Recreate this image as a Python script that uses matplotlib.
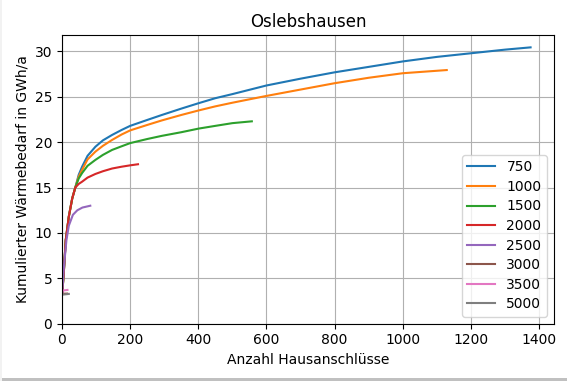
import matplotlib
matplotlib.use("Agg")
import matplotlib.pyplot as plt
from matplotlib.patches import Rectangle

labels = ["750", "1000", "1500", "2000", "2500", "3000", "3500", "5000"]

x_750 = [1, 5, 11, 20, 30, 39, 49, 59, 75, 98, 120, 147, 175, 200, 250, 293, 350, 401, 450, 500, 600, 700, 800, 900, 1000, 1100, 1200, 1300, 1375]
y_750 = [3.5, 5.5, 9.2, 11.8, 13.8, 15.0, 16.4, 17.3, 18.5, 19.5, 20.2, 20.8, 21.35, 21.8, 22.45, 23.0, 23.7, 24.3, 24.85, 25.3, 26.25, 27.0, 27.7, 28.3, 28.9, 29.4, 29.8, 30.2, 30.45]

x_1000 = [1, 5, 11, 20, 30, 39, 49, 59, 75, 98, 120, 147, 175, 200, 250, 293, 350, 401, 450, 500, 600, 700, 800, 900, 1000, 1129]
y_1000 = [3.5, 5.5, 9.2, 11.8, 13.8, 15.0, 16.2, 16.95, 18.1, 18.96, 19.6, 20.25, 20.85, 21.3, 21.9, 22.4, 23.0, 23.5, 23.95, 24.35, 25.1, 25.8, 26.5, 27.1, 27.6, 27.95]

x_1500 = [1, 5, 11, 20, 30, 39, 49, 59, 75, 98, 120, 147, 175, 200, 250, 293, 350, 401, 450, 500, 557]
y_1500 = [3.5, 5.5, 9.2, 11.8, 13.8, 15.0, 16.0, 16.6, 17.4, 18.05, 18.6, 19.15, 19.55, 19.9, 20.35, 20.7, 21.1, 21.5, 21.8, 22.1, 22.3]

x_2000 = [1, 5, 11, 20, 30, 39, 49, 59, 75, 98, 120, 147, 175, 200, 223]
y_2000 = [3.5, 5.5, 9.2, 11.8, 13.8, 15.0, 15.4, 15.65, 16.1, 16.5, 16.8, 17.1, 17.3, 17.45, 17.57]

x_2500 = [1, 5, 13, 20, 32, 45, 60, 83]
y_2500 = [3.5, 6.0, 9.2, 10.8, 12.0, 12.5, 12.8, 13.0]

x_3000 = [1, 3, 15]
y_3000 = [3.25, 3.3, 3.32]

x_3500 = [1, 2, 16]
y_3500 = [3.4, 3.65, 3.72]

x_5000 = [1, 20]
y_5000 = [3.2, 3.28]

series = [(x_750, y_750), (x_1000, y_1000), (x_1500, y_1500), (x_2000, y_2000),
          (x_2500, y_2500), (x_3000, y_3000), (x_3500, y_3500), (x_5000, y_5000)]

fig = plt.figure(figsize=(5.67, 3.81), dpi=100)
ax = fig.add_axes([62/567, 1-323.7/381, (554-62)/567, (323.7-35)/381])

for (xs, ys), lab in zip(series, labels):
    ax.plot(xs, ys, label=lab)

ax.set_xlim(left=0)
ax.set_ylim(bottom=0)
ax.set_xticks([0, 200, 400, 600, 800, 1000, 1200, 1400])
ax.set_yticks([0, 5, 10, 15, 20, 25, 30])
ax.grid(True)
ax.set_title("Oslebshausen")
ax.set_xlabel("Anzahl Hausanschlüsse")
ax.set_ylabel("Kumulierter Wärmebedarf in GWh/a")
ax.legend(loc="lower right", labelspacing=0.4)

# screenshot-like bottom shadow
fig.patches.append(Rectangle((0, 0), 1, 3/381, transform=fig.transFigure,
                             facecolor="#c0c0c0", edgecolor="none"))
fig.patches.append(Rectangle((0, 0), 2/567, 1, transform=fig.transFigure,
                             facecolor="#f2f2f2", edgecolor="none"))

fig.savefig("out.png", dpi=100)
